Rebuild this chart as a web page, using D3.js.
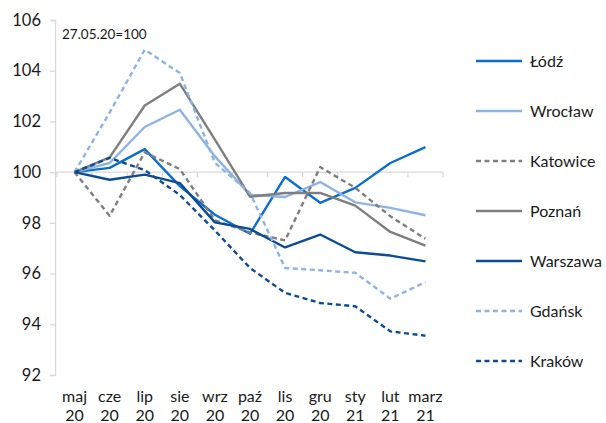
<!DOCTYPE html>
<html>
<head>
<meta charset="utf-8">
<script src="https://cdn.jsdelivr.net/npm/d3@7"></script>
<style>
  html, body { margin: 0; padding: 0; background: #fff; }
  svg { display: block; font-family: Lato, "Noto Sans", sans-serif; }
</style>
</head>
<body>
<svg id="chart" width="606" height="423"></svg>
<script>
// Months (two-line labels: month / year)
const months = ["maj", "cze", "lip", "sie", "wrz", "paź", "lis", "gru", "sty", "lut", "marz"];
const years  = ["20", "20", "20", "20", "20", "20", "20", "20", "21", "21", "21"];

// Index levels, 27.05.20 = 100
const lodz     = [100, 100.17, 100.91, 99.45, 98.32, 97.57, 99.81, 98.79, 99.38, 100.36, 100.99];
const wroclaw  = [100, 100.36, 101.78, 102.46, 100.62, 99.11, 99.02, 99.61, 98.81, 98.59, 98.30];
const katowice = [100, 98.28, 100.78, 100.12, 98.10, 97.62, 97.31, 100.20, 99.38, 98.26, 97.37];
const poznan   = [100, 100.58, 102.63, 103.49, 101.28, 99.03, 99.18, 99.18, 98.68, 97.64, 97.10];
const warszawa = [100, 99.70, 99.90, 99.57, 98.02, 97.76, 97.03, 97.54, 96.84, 96.71, 96.48];
const gdansk   = [100, 102.35, 104.83, 103.91, 100.37, 99.18, 96.22, 96.13, 96.03, 95.01, 95.66];
const krakow   = [100, 100.56, 100.08, 99.10, 97.70, 96.22, 95.24, 94.84, 94.71, 93.72, 93.55];

const yTicks = [92, 94, 96, 98, 100, 102, 104, 106];

const series = [
  { name: "Łódź",     values: lodz,     color: "#0a6ed1", dash: null },
  { name: "Wrocław",  values: wroclaw,  color: "#8db4e3", dash: null },
  { name: "Katowice", values: katowice, color: "#7f7f7f", dash: "5,3.5" },
  { name: "Poznań",   values: poznan,   color: "#7f7f7f", dash: null },
  { name: "Warszawa", values: warszawa, color: "#0b4c94", dash: null },
  { name: "Gdańsk",   values: gdansk,   color: "#8db4e3", dash: "5,3.5" },
  { name: "Kraków",   values: krakow,   color: "#0b4c94", dash: "5,3.5" }
];

const svg = d3.select("#chart");
const textColor = "#1a1a1a";
const axisColor = "#d9d9d9";

const x = d3.scaleBand().domain(months).range([57, 443]);
const y = d3.scaleLinear().domain([92, 106]).range([375, 20]);
const cx = m => x(m) + x.bandwidth() / 2;

// Vertical axis with outward ticks
const yAxis = svg.append("g")
  .attr("transform", "translate(55,0)")
  .call(d3.axisLeft(y).tickValues(yTicks).tickSize(5).tickPadding(9).tickFormat(d3.format("d")));
yAxis.select(".domain").attr("stroke", axisColor).attr("stroke-width", 1.3);
yAxis.selectAll(".tick line").attr("stroke", axisColor).attr("stroke-width", 1.3);
yAxis.selectAll(".tick text")
  .attr("fill", textColor).style("font-size", "16.5px").style("font-family", "Lato, 'Noto Sans', sans-serif");

// Horizontal category axis crossing at 100
const xAxisG = svg.append("g").attr("transform", `translate(0,${y(100)})`);
xAxisG.append("line")
  .attr("x1", 55).attr("x2", x.range()[1])
  .attr("stroke", axisColor).attr("stroke-width", 1.3);
xAxisG.selectAll("line.sep")
  .data(months.map(m => x(m) + x.bandwidth()).concat([x.range()[0]]))
  .join("line")
  .attr("class", "sep")
  .attr("x1", d => d).attr("x2", d => d)
  .attr("y1", 0).attr("y2", 5)
  .attr("stroke", axisColor).attr("stroke-width", 1.3);

// Category labels below the plot
const xl = svg.append("g").attr("fill", textColor).style("font-size", "16px").attr("text-anchor", "middle");
xl.selectAll("text.m").data(months).join("text")
  .attr("class", "m").attr("x", d => cx(d)).attr("y", 402).text(d => d);
xl.selectAll("text.yr").data(months).join("text")
  .attr("class", "yr").attr("x", d => cx(d)).attr("y", 421).text((d, i) => years[i]);

// Base note
svg.append("text")
  .attr("x", 62).attr("y", 39)
  .attr("fill", textColor).style("font-size", "13.5px")
  .text("27.05.20=100");

// Lines
const line = d3.line().x((d, i) => cx(months[i])).y(d => y(d));
svg.append("g").selectAll("path").data(series).join("path")
  .attr("d", d => line(d.values))
  .attr("fill", "none")
  .attr("stroke", d => d.color)
  .attr("stroke-width", 2.4)
  .attr("stroke-linejoin", "round")
  .attr("stroke-dasharray", d => d.dash);

// Legend
const leg = svg.append("g").selectAll("g").data(series).join("g")
  .attr("transform", (d, i) => `translate(476,${61 + i * 50})`);
leg.append("line")
  .attr("x1", 0).attr("x2", 46)
  .attr("stroke", d => d.color).attr("stroke-width", 2.4)
  .attr("stroke-dasharray", d => d.dash);
leg.append("text")
  .attr("x", 54).attr("dy", "0.35em")
  .attr("fill", textColor).style("font-size", "16px")
  .text(d => d.name);
</script>
</body>
</html>
